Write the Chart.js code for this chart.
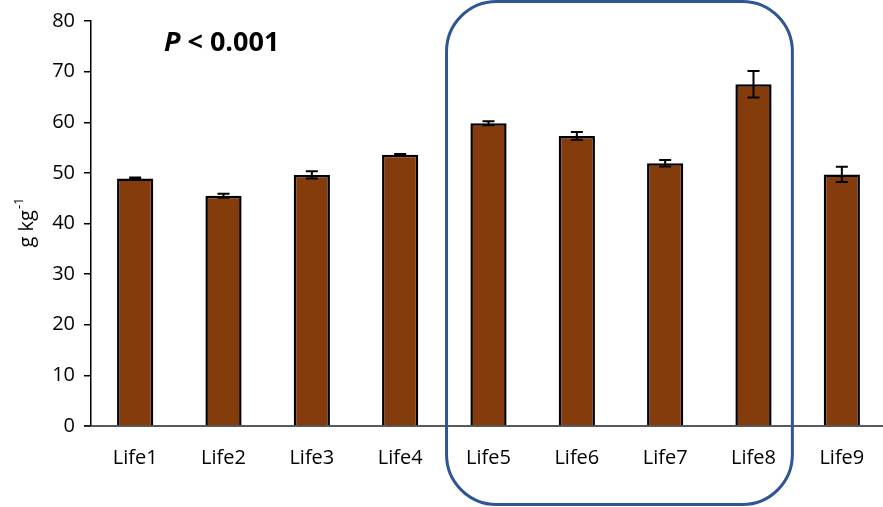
<!DOCTYPE html>
<html>
<head>
<meta charset="utf-8">
<script src="https://cdn.jsdelivr.net/npm/chart.js@4/dist/chart.umd.min.js"></script>
<style>
  html, body { margin: 0; padding: 0; background: #fff; overflow: hidden; }
  #wrap { width: 890px; height: 507px; }
</style>
</head>
<body>
<div id="wrap"><canvas id="chart" width="890" height="507"></canvas></div>
<script>
const categories = ["Life1", "Life2", "Life3", "Life4", "Life5", "Life6", "Life7", "Life8", "Life9"];
const values = [48.9, 45.5, 49.6, 53.6, 59.8, 57.3, 51.9, 67.5, 49.7];
const errors = [0.2, 0.4, 0.7, 0.15, 0.4, 0.75, 0.65, 2.6, 1.5];
const yTicks = [0, 10, 20, 30, 40, 50, 60, 70, 80];

const FONT = "'Open Sans', 'Liberation Sans', sans-serif";

const extras = {
    id: "extras",
    afterDatasetsDraw(chart) {
        let ctx = chart.ctx;
        let x = chart.scales.x;
        let y = chart.scales.y;

        // error bars
        ctx.save();
        ctx.strokeStyle = "#000";
        ctx.lineWidth = 2;
        values.forEach(function(v, i) {
            let px = x.getPixelForValue(i);
            let top = y.getPixelForValue(v + errors[i]);
            let bot = y.getPixelForValue(v - errors[i]);
            ctx.beginPath();
            ctx.moveTo(px, top);
            ctx.lineTo(px, bot);
            ctx.moveTo(px - 6, top);
            ctx.lineTo(px + 6, top);
            ctx.moveTo(px - 6, bot);
            ctx.lineTo(px + 6, bot);
            ctx.stroke();
        });

        // x axis line extended to the left like in Excel
        let y0 = y.getPixelForValue(0);
        ctx.strokeStyle = "#222";
        ctx.lineWidth = 1.5;
        ctx.beginPath();
        ctx.moveTo(84, y0);
        ctx.lineTo(chart.width, y0);
        ctx.stroke();

        // rounded box around Life5..Life8
        let step = x.getPixelForValue(1) - x.getPixelForValue(0);
        let left = x.getPixelForValue(4) - 0.475 * step;
        let right = x.getPixelForValue(7) + 0.44 * step;
        ctx.strokeStyle = "#2F5597";
        ctx.lineWidth = 3;
        ctx.beginPath();
        ctx.roundRect(left, 1.5, right - left, 503, 50);
        ctx.stroke();

        // P < 0.001
        ctx.fillStyle = "#000";
        ctx.textBaseline = "alphabetic";
        ctx.textAlign = "left";
        ctx.font = "italic bold 27px " + FONT;
        ctx.fillText("P", 164, 51);
        let w = ctx.measureText("P").width;
        ctx.font = "bold 27px " + FONT;
        ctx.fillText(" < 0.001", 164 + w, 51);

        // y axis title g kg-1
        ctx.translate(27, 223);
        ctx.rotate(-Math.PI / 2);
        ctx.textAlign = "left";
        ctx.textBaseline = "middle";
        ctx.font = "20px " + FONT;
        let t1 = "g kg";
        let w1 = ctx.measureText(t1).width;
        ctx.font = "13px " + FONT;
        let w2 = ctx.measureText("-1").width;
        let start = -(w1 + w2) / 2;
        ctx.font = "20px " + FONT;
        ctx.fillText(t1, start, 0);
        ctx.font = "13px " + FONT;
        ctx.fillText("-1", start + w1 + 1, -8);
        ctx.restore();
    }
};

new Chart(document.getElementById("chart"), {
    type: "bar",
    data: {
        labels: categories,
        datasets: [{
            data: values,
            backgroundColor: "#843C0C",
            borderColor: "#000",
            borderWidth: 2.5,
            categoryPercentage: 1,
            barPercentage: 0.41
        }]
    },
    options: {
        responsive: false,
        animation: false,
        layout: { padding: { top: 20, right: 4, left: 0, bottom: 0 } },
        plugins: { legend: { display: false }, tooltip: { enabled: false } },
        scales: {
            x: {
                grid: { display: false },
                border: { display: false },
                ticks: { color: "#000", font: { family: FONT, size: 20 }, padding: 12 },
                afterFit(scale) { scale.height = 81; }
            },
            y: {
                min: 0,
                max: 80,
                afterBuildTicks(scale) { scale.ticks = yTicks.map(function(v) { return { value: v }; }); },
                grid: { drawOnChartArea: false, color: "#000", tickLength: 7, lineWidth: 1.5 },
                border: { color: "#000", width: 1.5 },
                ticks: { color: "#000", font: { family: FONT, size: 20 }, padding: 9 },
                afterFit(scale) { scale.width = 91; }
            }
        }
    },
    plugins: [extras]
});
</script>
</body>
</html>
